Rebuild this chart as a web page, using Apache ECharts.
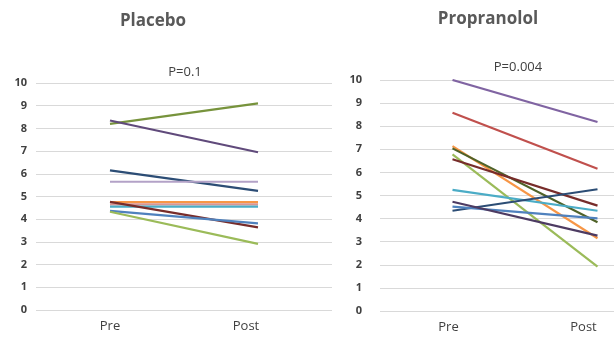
<!DOCTYPE html>
<html><head><meta charset="utf-8">
<script src="https://cdn.jsdelivr.net/npm/echarts@6/dist/echarts.min.js"></script>
<style>html,body{margin:0;padding:0;background:#fff}#c{width:614px;height:337px}</style>
</head><body><div id="c"></div>
<script>
const categories = ['Pre', 'Post'];
const yTicks = [0,1,2,3,4,5,6,7,8,9,10];
const placeboPre  = [8.2, 8.35, 6.15, 5.65, 4.75, 4.65, 4.55, 4.76, 4.37, 4.33];
const placeboPost = [9.1, 6.95, 5.25, 5.65, 4.75, 4.65, 4.55, 3.64, 3.82, 2.91];
const placeboColors = ['#77933C', '#604A7B', '#2C4D75', '#B3A2C7', '#F79646', '#D99694', '#4BACC6', '#772C2A', '#4F81BD', '#9BBB59'];
const propPre  = [10.0, 8.58, 7.14, 7.04, 6.78, 6.57, 5.24, 4.34, 4.52, 4.73];
const propPost = [8.18, 6.16, 3.15, 3.84, 1.92, 4.56, 4.34, 5.27, 4.01, 3.26];
const propColors = ['#8064A2', '#C0504D', '#F79646', '#4F6228', '#9BBB59', '#772C2A', '#4BACC6', '#2C4D75', '#4F81BD', '#4D3B62'];

const font = '"Open Sans", "Liberation Sans", sans-serif';
function yAxis(gi, margin) {
  return {
    type: 'value', gridIndex: gi, min: 0, max: 10, interval: 1,
    axisLine: {show: false}, axisTick: {show: false},
    splitLine: {lineStyle: {color: '#D9D9D9', width: 1}},
    axisLabel: {color: '#404040', fontSize: 11, fontWeight: 'bold', fontFamily: font, margin: margin,
      formatter: v => yTicks.includes(v) ? String(v) : ''}
  };
}
function xAxis(gi, shiftPre, shiftPost) {
  const rs = {color: '#404040', fontSize: 13, fontFamily: font};
  return {
    type: 'category', gridIndex: gi, data: categories, boundaryGap: true,
    axisLine: {show: false}, axisTick: {show: false},
    axisLabel: {margin: 10, hideOverlap: false, formatter: v => (v === 'Pre' ? '{a|' : '{b|') + v + '}',
      rich: {
        a: Object.assign({padding: [0, 2 * shiftPre, 0, 0]}, rs),
        b: Object.assign({padding: [0, 2 * shiftPost, 0, 0]}, rs)
      }}
  };
}
const series = [];
placeboPre.forEach((v, i) => series.push({
  type: 'line', xAxisIndex: 0, yAxisIndex: 0, data: [v, placeboPost[i]],
  symbol: 'none', lineStyle: {color: placeboColors[i], width: 2.2}, itemStyle: {color: placeboColors[i]}, silent: true, animation: false
}));
propPre.forEach((v, i) => series.push({
  type: 'line', xAxisIndex: 1, yAxisIndex: 1, data: [v, propPost[i]],
  symbol: 'none', lineStyle: {color: propColors[i], width: 2.2}, itemStyle: {color: propColors[i]}, silent: true, animation: false
}));

const chart = echarts.init(document.getElementById('c'), null, {renderer: 'canvas'});
chart.setOption({
  animation: false,
  backgroundColor: '#fff',
  title: [
    {text: 'Placebo', left: 148, top: 8, textAlign: 'center', textStyle: {fontFamily: font, fontSize: 17, fontWeight: 'bold', color: '#595959'}},
    {text: 'P=0.1', left: 180, top: 61, textAlign: 'center', textStyle: {fontFamily: font, fontSize: 13, fontWeight: 'normal', color: '#404040'}},
    {text: 'Propranolol', left: 483, top: 6, textAlign: 'center', textStyle: {fontFamily: font, fontSize: 17, fontWeight: 'bold', color: '#595959'}},
    {text: 'P=0.004', left: 513, top: 56, textAlign: 'center', textStyle: {fontFamily: font, fontSize: 13, fontWeight: 'normal', color: '#404040'}}
  ],
  grid: [
    {left: 36, width: 296, top: 83, bottom: 27, outerBoundsMode: 'none', containLabel: false},
    {left: 380, width: 290, top: 80, bottom: 26, outerBoundsMode: 'none', containLabel: false}
  ],
  xAxis: [xAxis(0, 0, 12), xAxis(1, 4, 14)],
  yAxis: [yAxis(0, 9), yAxis(1, 18)],
  series: series
});
</script>
</body></html>
